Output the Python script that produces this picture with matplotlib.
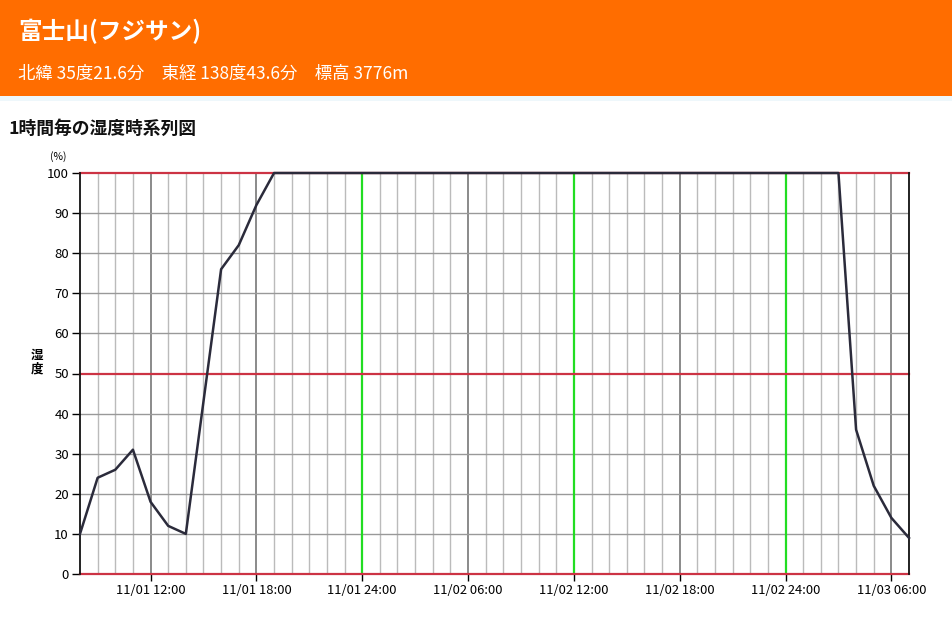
# humidity_timeseries.py
# Hourly humidity time series for Mt. Fuji (1時間毎の湿度時系列図)

import numpy as np
import matplotlib
matplotlib.use('Agg')
import matplotlib.pyplot as plt
from matplotlib.patches import Rectangle

plt.rcParams['font.family'] = ['Noto Sans CJK JP', 'DejaVu Sans']

# Station info
station_name = '富士山(フジサン)'
station_info = '北緯 35度21.6分　東経 138度43.6分　標高 3776m'
chart_title = '1時間毎の湿度時系列図'

# Hourly humidity (%) from 11/01 08:00 to 11/03 07:00
humidity = [10, 24, 26, 31, 18, 12, 10, 43, 76, 82, 92, 100,
            100, 100, 100, 100, 100, 100, 100, 100, 100, 100, 100, 100,
            100, 100, 100, 100, 100, 100, 100, 100, 100, 100, 100, 100,
            100, 100, 100, 100, 100, 100, 100, 100, 36, 22, 14, 9]
hours = np.arange(len(humidity))

# Labelled ticks (hours after 11/01 08:00)
tick_hours = [4, 10, 16, 22, 28, 34, 40, 46]
tick_labels = ['11/01 12:00', '11/01 18:00', '11/01 24:00', '11/02 06:00',
               '11/02 12:00', '11/02 18:00', '11/02 24:00', '11/03 06:00']
green_hours = [16, 28, 40]
dark_hours = [4, 10, 22, 34, 46]

fig = plt.figure(figsize=(9.52, 6.23), dpi=100)

# Orange header band
fig.patches.append(Rectangle((0, 1 - 96 / 623), 1, 96 / 623, transform=fig.transFigure,
                             facecolor='#ff6d00', edgecolor='none', zorder=0))
fig.patches.append(Rectangle((0, 1 - 101 / 623), 1, 5 / 623, transform=fig.transFigure,
                             facecolor='#eef7fb', edgecolor='none', zorder=0))
fig.text(18 / 952, 1 - 31 / 623, station_name, color='white', fontsize=17,
         fontweight='bold', va='center', ha='left')
fig.text(18 / 952, 1 - 74 / 623, station_info, color='white', fontsize=12.5,
         va='center', ha='left')
fig.text(9 / 952, 1 - 129 / 623, chart_title, color='#111111', fontsize=12.8,
         fontweight='bold', va='center', ha='left')

ax = fig.add_axes([80 / 952, 1 - 574 / 623, 829 / 952, 401 / 623])

# Vertical grid: every hour light, every 6 hours darker, midnight/noon green
for h in hours:
    if h in green_hours:
        ax.axvline(h, color='#22dd22', lw=1.6, zorder=2)
    elif h in dark_hours:
        ax.axvline(h, color='#777777', lw=1.2, zorder=1)
    elif h > 0:
        ax.axvline(h, color='#bbbbbb', lw=1.0, zorder=1)

# Horizontal grid: every 10 %, red at 0/50/100
for y in range(0, 101, 10):
    if y in (0, 50, 100):
        ax.axhline(y, color='#cc3344', lw=1.6, zorder=2.5, clip_on=False)
    else:
        ax.axhline(y, color='#999999', lw=1.0, zorder=1)

ax.plot(hours, humidity, color='#2b2b3b', lw=1.8, zorder=3, clip_on=False)

ax.set_xlim(0, 47)
ax.set_ylim(0, 100)
ax.set_yticks(range(0, 101, 10))
ax.set_xticks(tick_hours)
ax.set_xticklabels(tick_labels)
ax.tick_params(axis='y', length=6, width=1, labelsize=9.5, pad=2)
ax.tick_params(axis='x', length=5, width=1, labelsize=9.3, pad=2)

for side in ['top', 'bottom']:
    ax.spines[side].set_visible(False)
for side in ['left', 'right']:
    ax.spines[side].set_color('#111111')
    ax.spines[side].set_linewidth(1.3)

fig.text(58 / 952, 1 - 157 / 623, '(%)', fontsize=7.5, ha='center', va='center')
fig.text(37 / 952, 1 - 355 / 623, '湿', fontsize=9, fontweight='bold', ha='center', va='center')
fig.text(37 / 952, 1 - 369 / 623, '度', fontsize=9, fontweight='bold', ha='center', va='center')

fig.savefig('out.png', dpi=100)
